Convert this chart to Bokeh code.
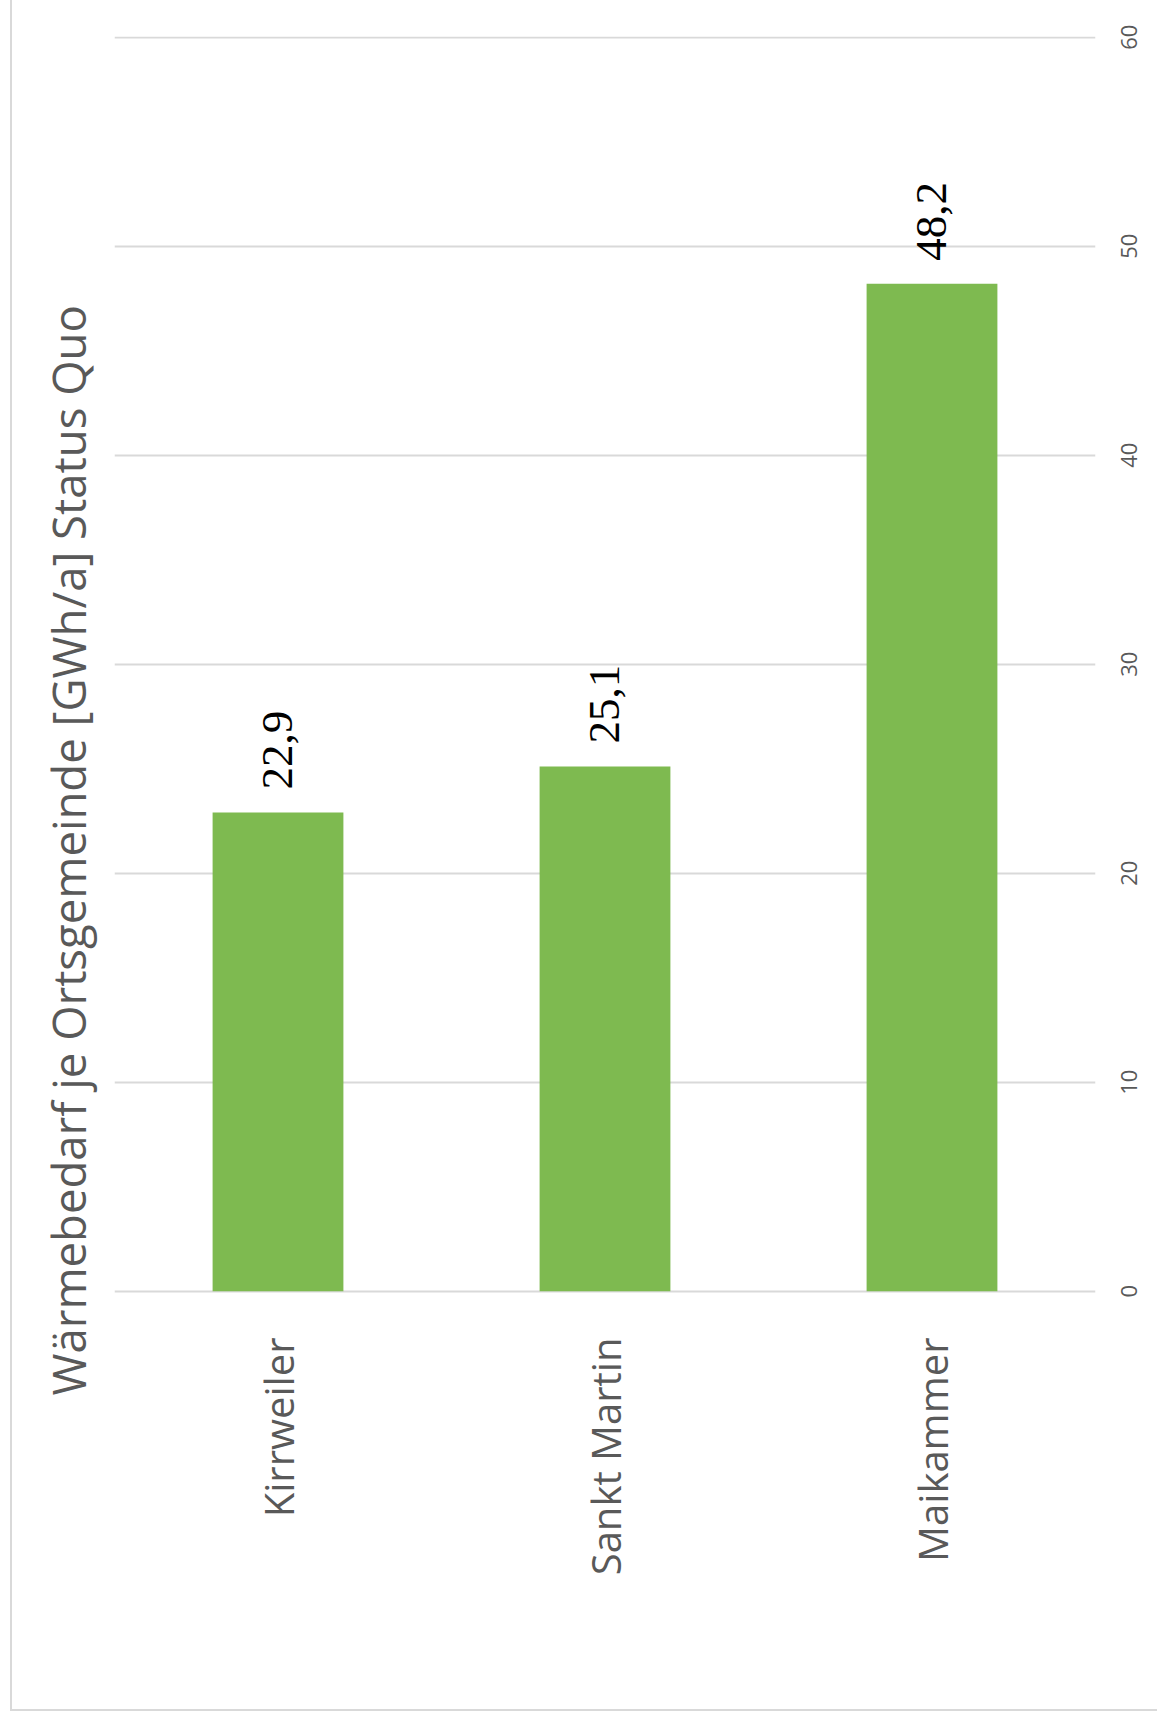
import math
from bokeh.plotting import figure
from bokeh.models import (ColumnDataSource, FactorRange, Range1d, LabelSet, Title,
                          FixedTicker, LinearAxis, CustomJSTickFormatter)
from bokeh.embed import file_html
from bokeh.resources import INLINE

categories = ["Kirrweiler", "Sankt Martin", "Maikammer"]
values = [22.9, 25.1, 48.2]
value_labels = ["22,9", "25,1", "48,2"]
y_ticks = [0, 10, 20, 30, 40, 50, 60]
title_text = "Wärmebedarf je Ortsgemeinde [GWh/a] Status Quo"

FONT = "Open Sans"
GRAY = "#595959"

Y0, Y1 = -0.35, 60.03
FRAME_H = 1262          # px of the plot frame height
TICK_FS = 22            # tick label font size, px

src = ColumnDataSource(dict(cat=categories, val=values, lab=value_labels))

p = figure(
    width=1147, height=1711,
    x_range=FactorRange(*categories, range_padding=0),
    y_range=Range1d(Y0, Y1),
    output_backend="svg", toolbar_location=None,
    min_border_left=102, min_border_right=64,
    min_border_top=36, min_border_bottom=1711 - 36 - FRAME_H,
    y_axis_location=None,
)
p.styles = {"margin-left": "10px", "border-left": "2px solid #d9d9d9",
            "border-bottom": "2px solid #d9d9d9"}
p.outline_line_color = None
p.background_fill_color = "white"
p.border_fill_color = "white"

p.vbar(x="cat", top="val", width=0.4, source=src, fill_color="#7EBA50", line_color=None)

labels = LabelSet(x="cat", y="val", text="lab", source=src, angle=math.pi / 2,
                  text_align="left", text_baseline="middle", y_offset=23,
                  text_font=FONT, text_font_size="45px", text_color="black")
p.add_layout(labels)

p.xgrid.grid_line_color = None
p.ygrid.ticker = FixedTicker(ticks=y_ticks)
p.ygrid.grid_line_color = "#d9d9d9"
p.ygrid.grid_line_width = 2

xa = p.xaxis[0]
xa.axis_line_color = None
xa.major_tick_line_color = None
xa.minor_tick_line_color = None
xa.major_label_text_color = GRAY
xa.major_label_text_font = FONT
xa.major_label_orientation = math.pi / 2
xa.major_label_text_font_size = "40px"
xa.major_label_standoff = 33

# Right value axis: Bokeh starts rotated labels at the tick, so each tick is moved
# down by half its label length to centre the rotated label on its grid line.
px_per_unit = FRAME_H / (Y1 - Y0)
label_ticks = [t - (len(str(t)) * 0.572 * TICK_FS / 2) / px_per_unit for t in y_ticks]
ya = LinearAxis(ticker=FixedTicker(ticks=label_ticks),
                formatter=CustomJSTickFormatter(code="return (Math.round(tick / 10) * 10).toString()"))
ya.axis_line_color = None
ya.major_tick_line_color = None
ya.minor_tick_line_color = None
ya.major_label_text_color = GRAY
ya.major_label_text_font = FONT
ya.major_label_text_font_size = f"{TICK_FS}px"
ya.major_label_orientation = math.pi / 2
ya.major_label_standoff = 28
p.add_layout(ya, "right")

t = Title(text=title_text, align="left", text_font=FONT, text_font_size="45.5px",
          text_color=GRAY, text_font_style="normal", standoff=31, offset=-97)
p.add_layout(t, "left")

open("out.html", "w").write(file_html(p, INLINE))
